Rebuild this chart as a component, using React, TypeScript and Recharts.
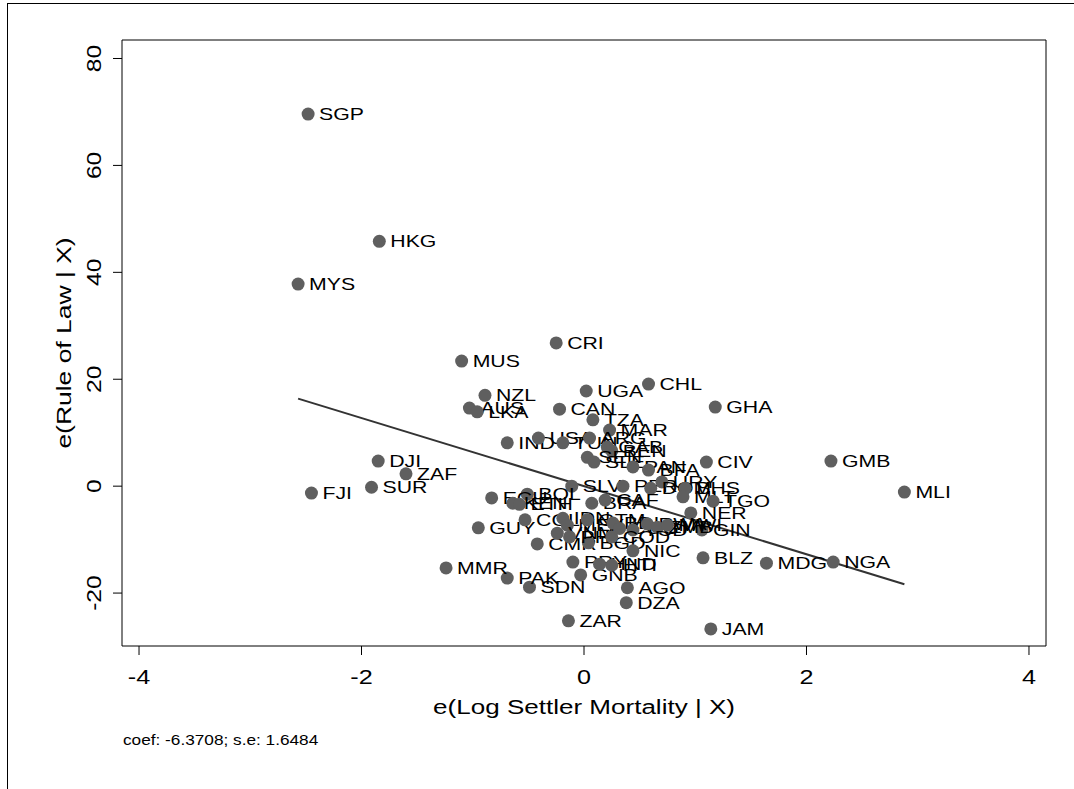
import React from "react";
import { ScatterChart, Scatter, XAxis, YAxis, ReferenceArea, ReferenceLine, Label } from "recharts";

// country codes and residual pairs
const codes = [
  "SGP", "HKG", "MYS", "CRI", "MUS", "CHL", "UGA", "NZL", "GHA", "AUS", "LKA", "CAN",
  "TZA", "MAR", "IND", "USA", "TUN", "ARG", "GAB", "BEN", "SEN", "SLE", "PAN", "BFA",
  "CIV", "GMB", "MLI", "DJI", "ZAF", "SUR", "FJI", "SLV", "PER", "URY", "DOM", "BHS",
  "MLT", "TGO", "NER", "GIN", "BLZ", "MDG", "NGA", "JAM", "ZAR", "DZA", "AGO", "GNB",
  "SDN", "PAK", "MMR", "GUY", "CMR", "BGD", "PRY", "HND", "HTI", "BOL", "ECU", "KEN",
  "ETH", "COL", "IDN", "MEX", "VNM", "PHL", "BRA", "CAF", "NIC", "GTM", "BDI", "COG",
  "TCD", "RWA", "ZMB", "MWI", "COD",
];
const xVals = [
  -2.48, -1.84, -2.57, -0.25, -1.10, 0.58, 0.02, -0.89, 1.18, -1.03, -0.96, -0.22,
  0.08, 0.23, -0.69, -0.41, -0.19, 0.05, 0.21, 0.25, 0.03, 0.09, 0.44, 0.58,
  1.10, 2.22, 2.88, -1.85, -1.60, -1.91, -2.45, -0.11, 0.35, 0.70, 0.60, 0.91,
  0.89, 1.16, 0.96, 1.06, 1.07, 1.64, 2.24, 1.14, -0.14, 0.38, 0.39, -0.03,
  -0.49, -0.69, -1.24, -0.95, -0.42, 0.04, -0.10, 0.14, 0.25, -0.51, -0.83, -0.64,
  -0.58, -0.53, -0.19, -0.15, -0.24, -0.13, 0.07, 0.19, 0.44, 0.03, 0.26, 0.32,
  0.44, 0.57, 0.66, 0.75, 0.25,
];
const yVals = [
  69.6, 45.8, 37.8, 26.8, 23.4, 19.1, 17.8, 17.0, 14.8, 14.6, 13.9, 14.4,
  12.4, 10.5, 8.1, 9.0, 8.1, 9.0, 7.3, 6.6, 5.4, 4.5, 3.6, 3.0,
  4.5, 4.7, -1.1, 4.7, 2.3, -0.2, -1.3, 0.0, 0.0, 0.8, -0.4, -0.4,
  -2.0, -2.8, -5.0, -8.2, -13.4, -14.4, -14.2, -26.7, -25.2, -21.8, -19.0, -16.6,
  -18.9, -17.2, -15.3, -7.8, -10.8, -10.6, -14.2, -14.6, -14.8, -1.5, -2.2, -3.2,
  -3.4, -6.3, -6.0, -7.3, -8.8, -9.5, -3.2, -2.6, -12.1, -6.3, -6.9, -7.9,
  -8.2, -7.1, -7.7, -7.3, -9.5,
];
const xTicks = [-4, -2, 0, 2, 4];
const yTicks = [-20, 0, 20, 40, 60, 80];
const coef = -6.3708;
const se = 1.6484;

const points = codes.map((code, i) => ({ code, x: xVals[i], y: yVals[i] }));
const xMin = Math.min(...xVals);
const xMax = Math.max(...xVals);

const X_DOMAIN: [number, number] = [-4.153, 4.153];
const Y_DOMAIN: [number, number] = [-29.9, 83.46];
const FONT = "'Liberation Sans', Arial, sans-serif";

// text that is a bit wider than Arial, like the Stata export
const WideText = ({ x, y, size, sx, anchor = "start", rotate = 0, children }: any) => (
  <text
    transform={`translate(${x} ${y})${rotate ? ` rotate(${rotate})` : ""} scale(${sx} 1)`}
    textAnchor={anchor}
    fontSize={size}
    fontFamily={FONT}
    fill="#000"
  >
    {children}
  </text>
);

const Marker = (props: any) => {
  const { cx, cy, payload } = props;
  return (
    <g>
      <circle cx={cx} cy={cy} r={6.5} fill="#5f5f5f" />
      <WideText x={cx + 11} y={cy + 6} size={17} sx={1.25}>
        {payload.code}
      </WideText>
    </g>
  );
};

const YTick = (props: any) => {
  const { y, payload } = props;
  return (
    <WideText x={101} y={y} size={21} sx={1.17} anchor="middle" rotate={-90}>
      {payload.value}
    </WideText>
  );
};

const XTick = (props: any) => {
  const { x, payload } = props;
  return (
    <WideText x={x} y={684} size={21} sx={1.2} anchor="middle">
      {payload.value}
    </WideText>
  );
};

export default function App() {
  return (
    <div style={{ position: "absolute", left: 0, top: 0, width: 1074, height: 789, overflow: "hidden", background: "#fff" }}>
      <div style={{ position: "absolute", left: 7, top: 3, width: 1200, height: 900, borderTop: "1px solid #000", borderLeft: "1px solid #000" }} />
      <div style={{ position: "absolute", left: 0, top: 0 }}>
        <ScatterChart width={1074} height={789} margin={{ top: 40, right: 28, left: 0, bottom: 0 }}>
          <XAxis
            type="number"
            dataKey="x"
            domain={X_DOMAIN}
            allowDataOverflow
            ticks={xTicks}
            tick={<XTick />}
            tickSize={9}
            tickLine={{ stroke: "#000" }}
            axisLine={false}
            height={143}
          >
            <Label
              content={({ viewBox }: any) => (
                <g>
                  <WideText x={viewBox.x + viewBox.width / 2} y={714} size={21} sx={1.24} anchor="middle">
                    e(Log Settler Mortality | X)
                  </WideText>
                  <WideText x={viewBox.x + 1} y={745} size={14} sx={1.23}>
                    {`coef: ${coef}; s.e: ${se}`}
                  </WideText>
                </g>
              )}
            />
          </XAxis>
          <YAxis
            type="number"
            dataKey="y"
            domain={Y_DOMAIN}
            allowDataOverflow
            ticks={yTicks}
            tick={<YTick />}
            tickSize={9}
            tickLine={{ stroke: "#000" }}
            axisLine={false}
            width={122}
          >
            <Label
              content={({ viewBox }: any) => (
                <WideText x={71} y={viewBox.y + viewBox.height / 2} size={21} sx={1.26} anchor="middle" rotate={-90}>
                  e(Rule of Law | X)
                </WideText>
              )}
            />
          </YAxis>
          <ReferenceArea x1={X_DOMAIN[0]} x2={X_DOMAIN[1]} y1={Y_DOMAIN[0]} y2={Y_DOMAIN[1]} fill="none" stroke="#000" strokeWidth={1} fillOpacity={0} />
          <Scatter data={points} shape={<Marker />} isAnimationActive={false} />
          <ReferenceLine
            segment={[
              { x: xMin, y: coef * xMin },
              { x: xMax, y: coef * xMax },
            ]}
            stroke="#333"
            strokeWidth={2}
          />
        </ScatterChart>
      </div>
    </div>
  );
}
